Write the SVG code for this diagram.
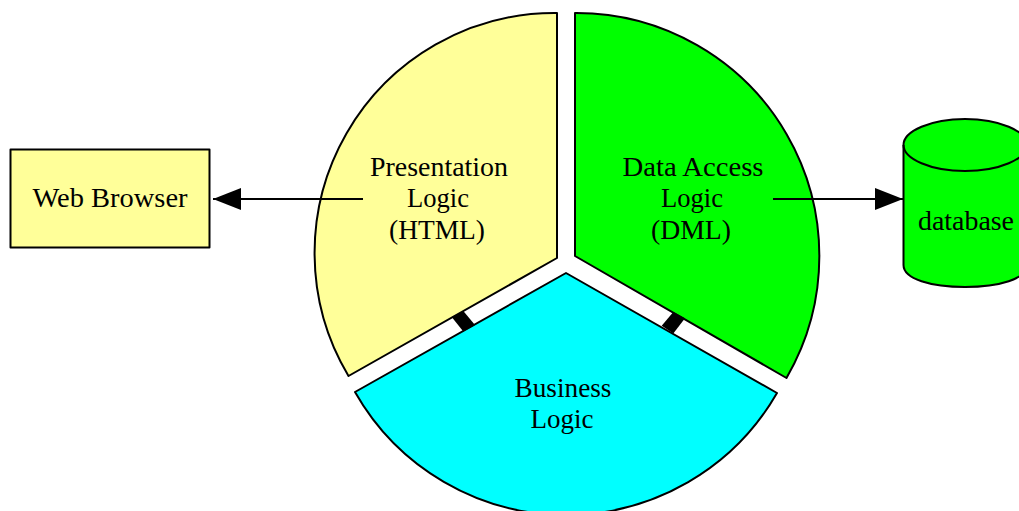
<svg xmlns="http://www.w3.org/2000/svg" width="1019" height="511" viewBox="0 0 1019 511">
<style>
.s{stroke:#000;stroke-width:2;stroke-linejoin:round}
.y{fill:#ffff99}.g{fill:#00ff00}.c{fill:#00ffff}
.t{font-family:"Liberation Serif","Times New Roman",serif;font-size:27px;fill:#000;text-anchor:middle}
.l{stroke:#000;stroke-width:2;fill:none}
</style>
<defs>
<marker id="a" markerUnits="userSpaceOnUse" markerWidth="28" markerHeight="24" refX="28" refY="12" orient="auto"><path d="M0 1L28 12L0 23Z" fill="#000"/></marker>
</defs>
<rect width="1019" height="511" fill="#fff"/>
<g id="presentation">
<path class="s y" d="M557 13A240 240 0 0 0 348.500 376L557 258Z"/>
<text class="t" x="439" y="176" textLength="138" lengthAdjust="spacingAndGlyphs">Presentation</text>
<text class="t" x="438" y="207" textLength="62" lengthAdjust="spacingAndGlyphs">Logic</text>
<text class="t" x="437" y="239" textLength="96" lengthAdjust="spacingAndGlyphs">(HTML)</text>
</g>
<g id="data-access">
<path class="s g" d="M575 13A243 243 0 0 1 786.500 378L575 256Z"/>
<text class="t" x="693" y="176" textLength="141" lengthAdjust="spacingAndGlyphs">Data Access</text>
<text class="t" x="692" y="207" textLength="62" lengthAdjust="spacingAndGlyphs">Logic</text>
<text class="t" x="691" y="239" textLength="80" lengthAdjust="spacingAndGlyphs">(DML)</text>
</g>
<g id="business">
<path class="s c" d="M566 273L777 393A243 243 0 0 1 355 392Z"/>
<text class="t" x="563" y="397" textLength="97" lengthAdjust="spacingAndGlyphs">Business</text>
<text class="t" x="562" y="428" textLength="63" lengthAdjust="spacingAndGlyphs">Logic</text>
</g>
<g id="web-browser">
<rect class="s y" x="10.500" y="149.500" width="199" height="98"/>
<text class="t" x="110" y="207" textLength="155" lengthAdjust="spacingAndGlyphs">Web Browser</text>
</g>
<g id="database">
<path class="s g" d="M903.500 145V265C903.500 279 931 287 965 287S1027 279 1027 265V145C1027 131 999 119 965 119S903.500 131 903.500 145Z"/>
<path class="l" d="M903.500 145C903.500 159 931 171 965 171S1027 159 1027 145"/>
<text class="t" x="966" y="230" textLength="96" lengthAdjust="spacingAndGlyphs">database</text>
</g>
<g id="connectors">
<path class="l" d="M363 199H213" marker-end="url(#a)"/>
<path class="l" d="M773 199H903" marker-end="url(#a)"/>
<path d="M451.700 317L463.300 311L475 325L463.300 331.500Z" fill="#000"/>
<path d="M661.700 325.700L673.300 312L685 318.300L673.300 333.500Z" fill="#000"/>
</g>
</svg>
